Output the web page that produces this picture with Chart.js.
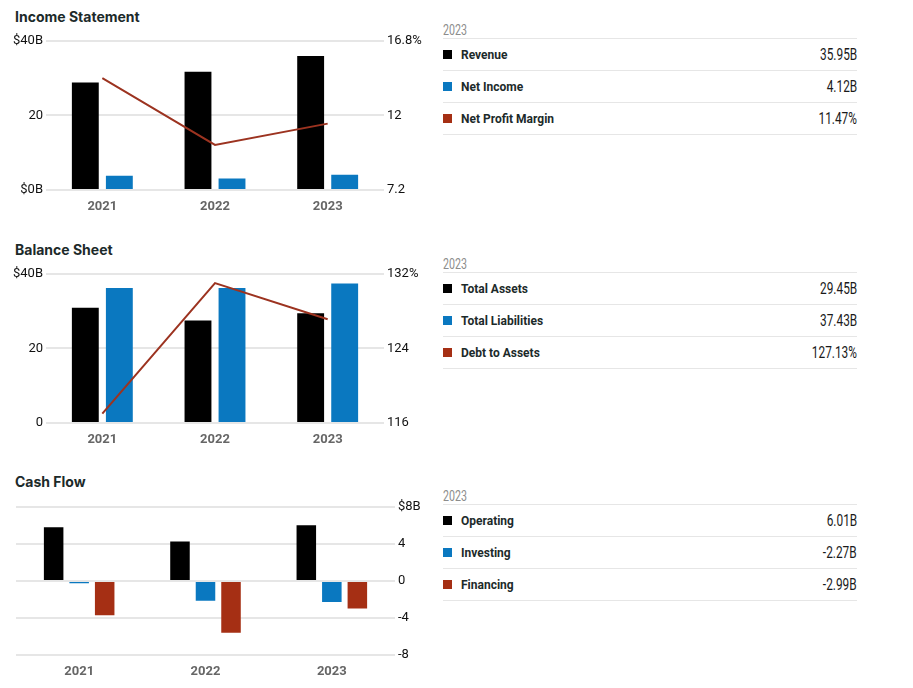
<!DOCTYPE html>
<html>
<head>
<meta charset="utf-8">
<script src="https://cdn.jsdelivr.net/npm/chart.js@4/dist/chart.umd.min.js"></script>
<style>
  body { margin: 0; background: #fff; font-family: Roboto, "Liberation Sans", sans-serif; }
  .page { position: relative; width: 913px; height: 688px; }
  .title { position: absolute; left: 15px; font-family: Inter, Roboto, sans-serif; font-size: 14px; font-weight: 700; color: #1c2a2a; line-height: 16px; }
  .wrap { position: absolute; left: 0; width: 430px; height: 190px; }
  .table { position: absolute; left: 443px; width: 414px; }
  .table .head { height: 16px; line-height: 16px; font-size: 14px; font-weight: 400; color: #8c8c8c; border-bottom: 1px solid #e6e6e6; }
  .table .head span { display: inline-block; transform: scaleX(0.76); transform-origin: left center; }
  .table .row { height: 31px; display: flex; align-items: center; border-bottom: 1px solid #e6e6e6; }
  .table .sq { width: 9px; height: 9px; margin-right: 9px; }
  .table .name { flex: 1; font-size: 12px; font-weight: 700; color: #1c2a2a; }
  .table .val { font-size: 16px; color: #1a1a1a; display: inline-block; transform: scaleX(0.74); transform-origin: right center; }
</style>
</head>
<body>
<div class="page">
  <div class="title" style="top:9px">Income Statement</div>
  <div class="wrap" style="top:30px"><canvas id="incomeChart"></canvas></div>
  <div class="table" id="incomeTable" style="top:22px"></div>

  <div class="title" style="top:242px">Balance Sheet</div>
  <div class="wrap" style="top:263px"><canvas id="balanceChart"></canvas></div>
  <div class="table" id="balanceTable" style="top:256px"></div>

  <div class="title" style="top:474px">Cash Flow</div>
  <div class="wrap" style="top:496px; height:189px"><canvas id="cashChart"></canvas></div>
  <div class="table" id="cashTable" style="top:488px"></div>
</div>

<script>
// 1. Data
const years = ['2021', '2022', '2023'];

const revenue = [28.8, 31.7, 35.95];
const netIncome = [3.8, 3.1, 4.12];
const netMargin = [14.4, 10.1, 11.47];

const totalAssets = [30.9, 27.5, 29.45];
const totalLiabilities = [36.2, 36.2, 37.43];
const debtToAssets = [117.0, 131.0, 127.13];

const operating = [5.8, 4.26, 6.01];
const investing = [-0.25, -2.15, -2.27];
const financing = [-3.7, -5.6, -2.99];

// tick values + labels
const incomeLeftTicks = [0, 20, 40];
const incomeLeftLabels = ['$0B', '20', '$40B'];
const incomeRightTicks = [7.2, 12, 16.8];
const incomeRightLabels = ['7.2', '12', '16.8%'];

const balanceLeftTicks = [0, 20, 40];
const balanceLeftLabels = ['0', '20', '$40B'];
const balanceRightTicks = [116, 124, 132];
const balanceRightLabels = ['116', '124', '132%'];

const cashTicks = [-8, -4, 0, 4, 8];
const cashLabels = ['-8', '-4', '0', '4', '$8B'];

// 2. Colors
const BLACK = '#000000';
const BLUE = '#0a78c0';
const RED = '#a52f14';
const LINE_RED = '#9c3320';
const GRID = '#e6e6e6';

// 3. Helpers
function fixedTicks(values, labels) {
    return {
        afterBuildTicks: s => { s.ticks = values.map(v => ({ value: v })); },
        ticks: {
            callback: (v, i) => labels[i],
            color: '#111',
            font: { family: 'Roboto', size: 13 },
            padding: 3
        }
    };
}

function xAxis() {
    return {
        grid: { display: false },
        border: { display: false },
        ticks: { color: '#666', font: { family: 'Roboto', size: 13, weight: 'bold' }, padding: 1 },
        afterFit: s => { s.height = 30; }
    };
}

function comboChart(id, bar1, bar2, line, left, right) {
    const ctx = document.getElementById(id).getContext('2d');
    const l = fixedTicks(left.ticks, left.labels);
    const r = fixedTicks(right.ticks, right.labels);
    return new Chart(ctx, {
        type: 'bar',
        data: {
            labels: years,
            datasets: [
                { type: 'line', data: line, borderColor: LINE_RED, borderWidth: 2, pointRadius: 0, yAxisID: 'y1', order: 0 },
                { data: bar1, backgroundColor: BLACK, yAxisID: 'y', order: 1, categoryPercentage: 0.604, barPercentage: 0.79 },
                { data: bar2, backgroundColor: BLUE, yAxisID: 'y', order: 1, categoryPercentage: 0.604, barPercentage: 0.79 }
            ]
        },
        options: {
            responsive: true,
            maintainAspectRatio: false,
            animation: false,
            layout: { padding: { top: 10, left: 0, right: 0, bottom: 0 } },
            plugins: { legend: { display: false }, tooltip: { enabled: false } },
            scales: {
                x: xAxis(),
                y: {
                    position: 'left', min: left.ticks[0], max: left.ticks[left.ticks.length - 1],
                    grid: { color: GRID, lineWidth: 2, drawTicks: false },
                    border: { display: false },
                    afterBuildTicks: l.afterBuildTicks, ticks: l.ticks,
                    afterFit: s => { s.width = 46; }
                },
                y1: {
                    position: 'right', min: right.ticks[0], max: right.ticks[right.ticks.length - 1],
                    grid: { display: false, drawTicks: false },
                    border: { display: false },
                    afterBuildTicks: r.afterBuildTicks, ticks: r.ticks,
                    afterFit: s => { s.width = 46; }
                }
            }
        }
    });
}

// 4. Income + Balance charts
comboChart('incomeChart', revenue, netIncome, netMargin,
    { ticks: incomeLeftTicks, labels: incomeLeftLabels },
    { ticks: incomeRightTicks, labels: incomeRightLabels });

comboChart('balanceChart', totalAssets, totalLiabilities, debtToAssets,
    { ticks: balanceLeftTicks, labels: balanceLeftLabels },
    { ticks: balanceRightTicks, labels: balanceRightLabels });

// 5. Cash flow chart
const cashAxis = fixedTicks(cashTicks, cashLabels);
new Chart(document.getElementById('cashChart').getContext('2d'), {
    type: 'bar',
    data: {
        labels: years,
        datasets: [
            { data: operating, backgroundColor: BLACK },
            { data: investing, backgroundColor: BLUE },
            { data: financing, backgroundColor: RED }
        ]
    },
    options: {
        responsive: true,
        maintainAspectRatio: false,
        animation: false,
        layout: { padding: { top: 10, left: 16, right: 0, bottom: 0 } },
        datasets: { bar: { categoryPercentage: 0.606, barPercentage: 0.765 } },
        plugins: { legend: { display: false }, tooltip: { enabled: false } },
        scales: {
            x: xAxis(),
            y: {
                position: 'right', min: -8, max: 8,
                grid: { color: GRID, lineWidth: 2, drawTicks: false },
                border: { display: false },
                afterBuildTicks: cashAxis.afterBuildTicks, ticks: cashAxis.ticks,
                afterFit: s => { s.width = 35; }
            }
        }
    }
});

// 6. Side tables (latest year)
function fillTable(id, rows) {
    const el = document.getElementById(id);
    let html = `<div class="head"><span>${years[years.length - 1]}</span></div>`;
    rows.forEach(r => {
        html += `
            <div class="row">
                <div class="sq" style="background:${r.color}"></div>
                <div class="name">${r.name}</div>
                <div class="val">${r.value}</div>
            </div>`;
    });
    el.innerHTML = html;
}

const last = arr => arr[arr.length - 1].toFixed(2);

fillTable('incomeTable', [
    { name: 'Revenue', color: BLACK, value: last(revenue) + 'B' },
    { name: 'Net Income', color: BLUE, value: last(netIncome) + 'B' },
    { name: 'Net Profit Margin', color: RED, value: last(netMargin) + '%' }
]);

fillTable('balanceTable', [
    { name: 'Total Assets', color: BLACK, value: last(totalAssets) + 'B' },
    { name: 'Total Liabilities', color: BLUE, value: last(totalLiabilities) + 'B' },
    { name: 'Debt to Assets', color: RED, value: last(debtToAssets) + '%' }
]);

fillTable('cashTable', [
    { name: 'Operating', color: BLACK, value: last(operating) + 'B' },
    { name: 'Investing', color: BLUE, value: last(investing) + 'B' },
    { name: 'Financing', color: RED, value: last(financing) + 'B' }
]);
</script>
</body>
</html>
